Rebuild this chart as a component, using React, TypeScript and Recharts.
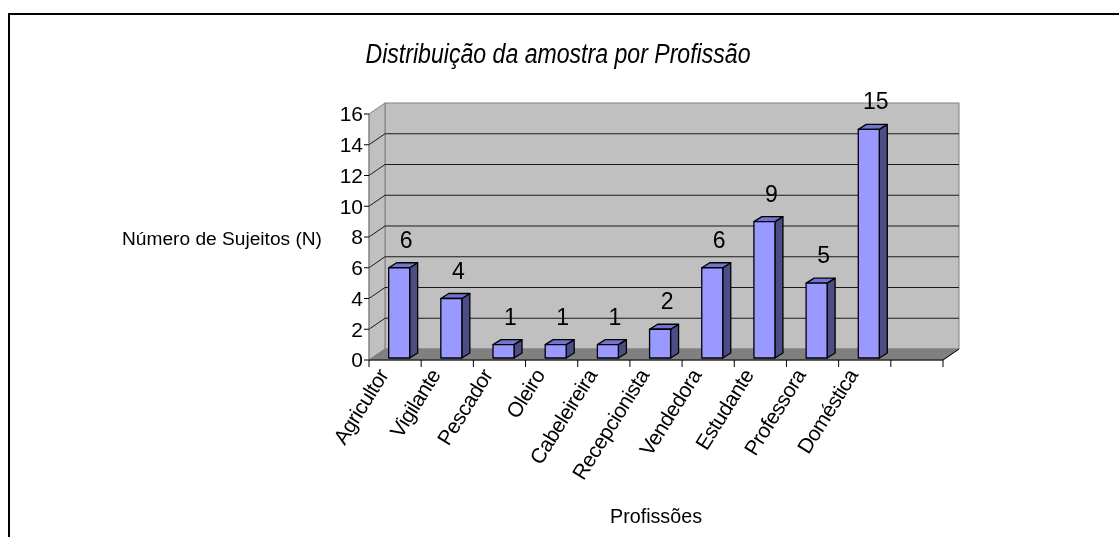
import React from 'react';
import { BarChart, Bar, XAxis, YAxis, ReferenceArea, ReferenceLine, LabelList, Label } from 'recharts';

const FONT = '"Liberation Sans", Arial, sans-serif';

// Dados
const profissoes = [
  'Agricultor', 'Vigilante', 'Pescador', 'Oleiro', 'Cabeleireira',
  'Recepcionista', 'Vendedora', 'Estudante', 'Professora', 'Doméstica', '',
];
const sujeitos: (number | null)[] = [6, 4, 1, 1, 1, 2, 6, 9, 5, 15, null];
const yTicks = [0, 2, 4, 6, 8, 10, 12, 14, 16];
const gridLevels = [2, 4, 6, 8, 10, 12, 14];

const chartData = profissoes.map((profissao, i) => ({ profissao, n: sujeitos[i], pos: i + 0.5 }));
const edgeTicks = [...profissoes.map((_, i) => i), profissoes.length];

// profundidade do efeito 3D
const WALL_DX = 16;
const WALL_DY = 11;
const BAR_DX = 8;
const BAR_DY = 5;
const BAR_SHIFT = 4;

function Walls(props: any) {
  const { x, y, width, height } = props;
  const b = y + height;
  const r = x + width;
  return (
    <g>
      <rect x={x + WALL_DX} y={y - WALL_DY} width={width} height={height} fill="#c0c0c0" stroke="#808080" />
      <polygon
        points={`${x},${y} ${x + WALL_DX},${y - WALL_DY} ${x + WALL_DX},${b - WALL_DY} ${x},${b}`}
        fill="#c0c0c0"
        stroke="#808080"
      />
      <polygon
        points={`${x},${b} ${x + WALL_DX},${b - WALL_DY} ${r + WALL_DX},${b - WALL_DY} ${r},${b}`}
        fill="#808080"
        stroke="#808080"
      />
      <line x1={r} y1={b} x2={r + WALL_DX} y2={b - WALL_DY} stroke="#000" />
    </g>
  );
}

function WallLine(props: any) {
  const { x1, y1, x2 } = props;
  return (
    <path
      d={`M${x1},${y1} L${x1 + WALL_DX},${y1 - WALL_DY} L${x2 + WALL_DX},${y1 - WALL_DY}`}
      fill="none"
      stroke="#1a1a1a"
    />
  );
}

function Box3D(props: any) {
  const { x, y, width, height } = props;
  if (height == null || height <= 0) return null;
  const fx = x + BAR_SHIFT;
  const top = y;
  const bot = y + height - 2;
  const r = fx + width;
  return (
    <g stroke="#000" strokeWidth={1.3} strokeLinejoin="round">
      <polygon
        points={`${r},${top} ${r + BAR_DX},${top - BAR_DY} ${r + BAR_DX},${bot - BAR_DY} ${r},${bot}`}
        fill="#4d4d85"
      />
      <polygon
        points={`${fx},${top} ${fx + BAR_DX},${top - BAR_DY} ${r + BAR_DX},${top - BAR_DY} ${r},${top}`}
        fill="#7373d0"
      />
      <rect x={fx} y={top} width={width} height={bot - top} fill="#9999ff" />
    </g>
  );
}

function ValueLabel(props: any) {
  const { value } = props;
  if (value == null) return null;
  const vb = props.viewBox ?? props;
  const { x, y, width } = vb;
  return (
    <text x={x + width / 2 + BAR_SHIFT + 7} y={y - 20} textAnchor="middle" fontSize={23} fill="#000" fontFamily={FONT}>
      {value}
    </text>
  );
}

function NoTick() {
  return <g />;
}

function CategoryTick(props: any) {
  const { x, y, payload } = props;
  const tx = x - 6;
  const ty = y + 14;
  return (
    <text
      x={tx}
      y={ty}
      transform={`rotate(-58, ${tx}, ${ty})`}
      textAnchor="end"
      fontSize={21}
      letterSpacing={-0.5}
      fill="#000"
      fontFamily={FONT}
    >
      {payload.value}
    </text>
  );
}

function YTitle(props: any) {
  const { viewBox } = props;
  return (
    <text
      x={viewBox.x + viewBox.width - 47}
      y={viewBox.y + viewBox.height / 2 + 8}
      textAnchor="end"
      fontSize={18}
      textLength={200}
      lengthAdjust="spacingAndGlyphs"
      fill="#000"
      fontFamily={FONT}
    >
      Número de Sujeitos (N)
    </text>
  );
}

function XTitle(props: any) {
  const { viewBox } = props;
  return (
    <text
      x={viewBox.x + viewBox.width / 2}
      y={viewBox.y + viewBox.height + 52}
      textAnchor="middle"
      fontSize={21}
      textLength={92}
      lengthAdjust="spacingAndGlyphs"
      fill="#000"
      fontFamily={FONT}
    >
      Profissões
    </text>
  );
}

export default function App() {
  return (
    <div style={{ position: 'relative', width: 1103, height: 521 }}>
      <div
        style={{
          position: 'fixed', left: 8, top: 13, width: 1111, height: 524,
          borderLeft: '2px solid #000', borderTop: '2px solid #000', boxSizing: 'border-box',
        }}
      />
      <BarChart
        width={1103}
        height={521}
        data={chartData}
        margin={{ top: 106, right: 168, bottom: 58, left: 311 }}
        barCategoryGap="30%"
      >
        <XAxis
          dataKey="pos"
          type="number"
          domain={[0, profissoes.length]}
          ticks={edgeTicks}
          interval={0}
          height={1}
          tick={<NoTick />}
          tickSize={7}
          tickLine={{ stroke: '#000' }}
          axisLine={{ stroke: '#000' }}
        />
        <XAxis
          xAxisId="cat"
          dataKey="profissao"
          height={110}
          interval={0}
          tickLine={false}
          axisLine={false}
          tickSize={0}
          tickMargin={0}
          tick={<CategoryTick />}
        >
          <Label content={<XTitle />} />
        </XAxis>
        <YAxis
          domain={[0, 16]}
          ticks={yTicks}
          interval={0}
          width={50}
          tickSize={5}
          tickMargin={1}
          tick={{ fontSize: 21, fill: '#000', fontFamily: FONT }}
          tickLine={{ stroke: '#000' }}
          axisLine={{ stroke: '#808080' }}
        >
          <Label content={<YTitle />} />
        </YAxis>
        <ReferenceArea xAxisId="cat" y1={0} y2={16} ifOverflow="visible" shape={<Walls />} zIndex={-90} />
        {gridLevels.map((v) => (
          <ReferenceLine key={v} xAxisId="cat" y={v} ifOverflow="visible" shape={<WallLine />} zIndex={-80} />
        ))}
        <Bar xAxisId="cat" dataKey="n" shape={<Box3D />} isAnimationActive={false}>
          <LabelList dataKey="n" content={<ValueLabel />} />
        </Bar>
      </BarChart>
      <svg width={1103} height={80} style={{ position: 'absolute', left: 0, top: 0 }}>
        <text
          x={550}
          y={55}
          textAnchor="middle"
          fontSize={27}
          fontStyle="italic"
          textLength={385}
          lengthAdjust="spacingAndGlyphs"
          fill="#000"
          fontFamily={FONT}
        >
          Distribuição da amostra por Profissão
        </text>
      </svg>
    </div>
  );
}
